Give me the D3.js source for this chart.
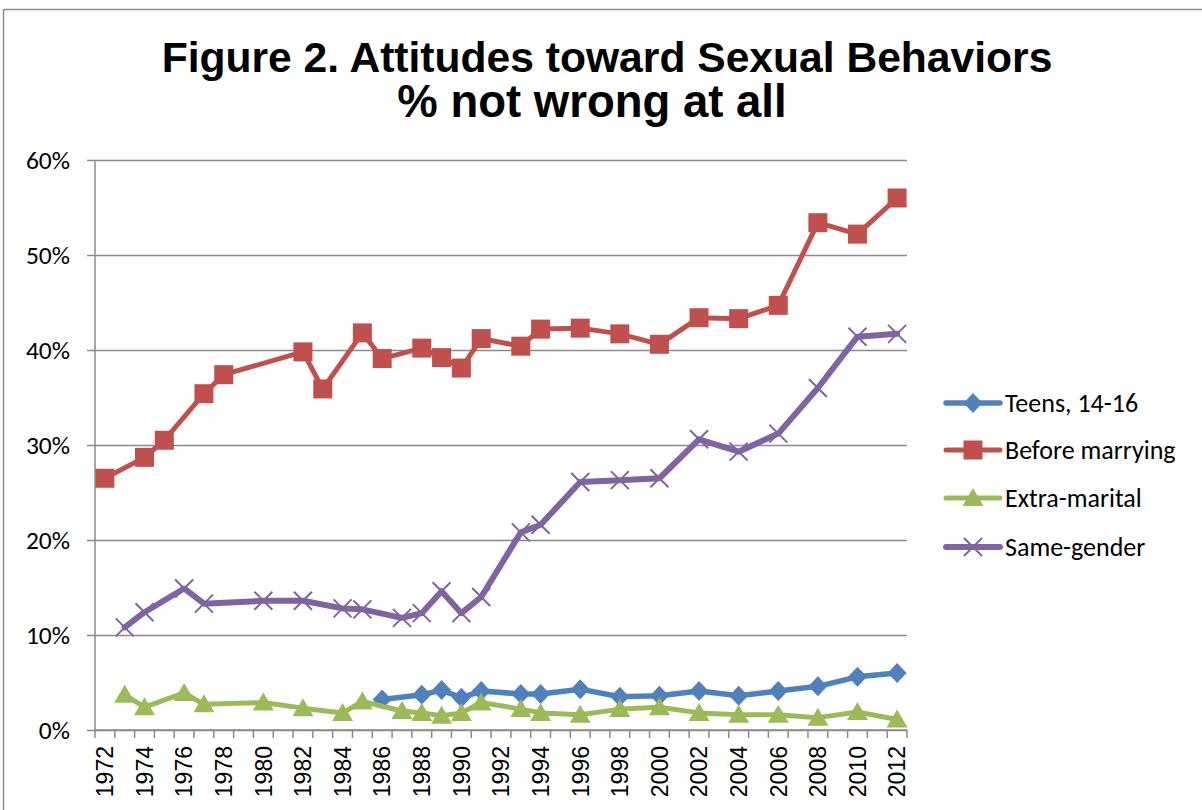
<!DOCTYPE html>
<html>
<head>
<meta charset="utf-8">
<script src="https://cdn.jsdelivr.net/npm/d3@7"></script>
<style>
  html, body { margin: 0; padding: 0; background: #fff; }
  svg { display: block; }
</style>
</head>
<body>
<svg id="chart" width="1202" height="810"></svg>
<script>
const categories = [1972,1973,1974,1975,1976,1977,1978,1979,1980,1981,1982,1983,1984,1985,1986,1987,1988,1989,1990,1991,1992,1993,1994,1995,1996,1997,1998,1999,2000,2001,2002,2003,2004,2005,2006,2007,2008,2009,2010,2011,2012];
const tickLabels = [1972,1974,1976,1978,1980,1982,1984,1986,1988,1990,1992,1994,1996,1998,2000,2002,2004,2006,2008,2010,2012];
const yTicks = [0,10,20,30,40,50,60];

const teensYears = [1986,1988,1989,1990,1991,1993,1994,1996,1998,2000,2002,2004,2006,2008,2010,2012];
const teensValues = [3.2,3.7,4.2,3.4,4.1,3.8,3.8,4.3,3.5,3.6,4.1,3.6,4.1,4.6,5.6,6.0];

const beforeYears = [1972,1974,1975,1977,1978,1982,1983,1985,1986,1988,1989,1990,1991,1993,1994,1996,1998,2000,2002,2004,2006,2008,2010,2012];
const beforeValues = [26.5,28.7,30.5,35.4,37.4,39.8,35.9,41.8,39.1,40.2,39.2,38.1,41.2,40.4,42.2,42.3,41.7,40.6,43.4,43.3,44.7,53.4,52.2,56.0];

const extraYears = [1973,1974,1976,1977,1980,1982,1984,1985,1987,1988,1989,1990,1991,1993,1994,1996,1998,2000,2002,2004,2006,2008,2010,2012];
const extraValues = [3.7,2.4,3.9,2.7,2.9,2.3,1.8,3.0,2.0,1.8,1.5,1.8,2.9,2.2,1.8,1.6,2.2,2.4,1.8,1.6,1.6,1.3,1.9,1.1];

const sameYears = [1973,1974,1976,1977,1980,1982,1984,1985,1987,1988,1989,1990,1991,1993,1994,1996,1998,2000,2002,2004,2006,2008,2010,2012];
const sameValues = [10.8,12.4,14.9,13.3,13.6,13.6,12.8,12.7,11.8,12.3,14.6,12.3,14.0,20.8,21.6,26.1,26.3,26.5,30.6,29.3,31.2,36.0,41.4,41.7];

const seriesNames = ["Teens, 14-16","Before marrying","Extra-marital","Same-gender"];

const series = [
  {name: seriesNames[0], years: teensYears, values: teensValues, color: "#4F81BD", marker: "diamond", width: 5.5},
  {name: seriesNames[1], years: beforeYears, values: beforeValues, color: "#C0504D", marker: "square", width: 5},
  {name: seriesNames[2], years: extraYears, values: extraValues, color: "#9BBB59", marker: "triangle", width: 5},
  {name: seriesNames[3], years: sameYears, values: sameValues, color: "#8064A2", marker: "cross", width: 6}
];

const svg = d3.select("#chart");
const L = 95, R = 907, T = 160, B = 730;
const gridColor = "#8a8a8a";
const labelFont = "Carlito, Calibri, Lato, 'Open Sans', sans-serif";

// outer frame
svg.append("path")
  .attr("d", "M3.5,815 L3.5,9.5 L1210,9.5")
  .attr("fill", "none").attr("stroke", "#8c8c8c").attr("stroke-width", 1.5);

// title
const title = svg.append("text")
  .attr("text-anchor", "middle")
  .attr("font-family", "'Liberation Sans', Arial, sans-serif")
  .attr("font-weight", "bold").attr("fill", "#000");
title.append("tspan").attr("x", 607).attr("y", 72).attr("font-size", 42.6).text("Figure 2. Attitudes toward Sexual Behaviors");
title.append("tspan").attr("x", 592).attr("y", 117).attr("font-size", 45.5).text("% not wrong at all");

const x = d3.scaleBand().domain(categories).range([L, R]).paddingInner(0).paddingOuter(0);
const y = d3.scaleLinear().domain([0, 60]).range([B, T]);
const cx = yr => x(yr) + x.bandwidth() / 2;

// y axis with gridlines
const yAxis = d3.axisLeft(y).tickValues(yTicks).tickFormat(d => d + "%")
  .tickSize(-(R - L + 8)).tickPadding(17);
const gy = svg.append("g").attr("transform", `translate(${L - 8},0)`).call(yAxis);
gy.select(".domain").remove();
gy.selectAll(".tick line").attr("stroke", gridColor).attr("stroke-width", 1.5);
gy.selectAll(".tick text").attr("font-family", labelFont).attr("font-size", 25.5).attr("fill", "#000");

// y axis line
svg.append("line").attr("x1", L).attr("x2", L).attr("y1", T).attr("y2", B)
  .attr("stroke", gridColor).attr("stroke-width", 1.5);

// x axis labels
const xAxis = d3.axisBottom(x).tickValues(tickLabels).tickSize(0).tickPadding(0);
const gx = svg.append("g").attr("transform", `translate(0,${B})`).call(xAxis);
gx.select(".domain").remove();
gx.selectAll(".tick text")
  .attr("font-family", "'Liberation Sans', Arial, sans-serif")
  .attr("font-size", 23).attr("fill", "#000")
  .attr("transform", "rotate(-90)")
  .attr("text-anchor", "end")
  .attr("x", -16).attr("y", 0).attr("dy", "0.36em");

// x axis line + boundary ticks
svg.append("line").attr("x1", L).attr("x2", R).attr("y1", B).attr("y2", B)
  .attr("stroke", gridColor).attr("stroke-width", 1.5);
svg.append("g").selectAll("line").data(categories.concat(["end"])).join("line")
  .attr("x1", d => d === "end" ? R : x(d)).attr("x2", d => d === "end" ? R : x(d))
  .attr("y1", B).attr("y2", B + 8)
  .attr("stroke", gridColor).attr("stroke-width", 1.5);

function drawMarker(g, type, color, px, py) {
  if (type === "diamond") {
    g.append("path").attr("d", `M${px},${py-10} L${px+9.5},${py} L${px},${py+10} L${px-9.5},${py} Z`).attr("fill", color);
  } else if (type === "square") {
    g.append("rect").attr("x", px - 9.5).attr("y", py - 9.5).attr("width", 19).attr("height", 19).attr("fill", color);
  } else if (type === "triangle") {
    g.append("path").attr("d", `M${px},${py-10} L${px+10.5},${py+8} L${px-10.5},${py+8} Z`).attr("fill", color);
  } else if (type === "cross") {
    g.append("path").attr("d", `M${px-9},${py-9} L${px+9},${py+9} M${px-9},${py+9} L${px+9},${py-9}`)
      .attr("stroke", color).attr("stroke-width", 2).attr("fill", "none");
  }
}

const line = d3.line().x(d => cx(d[0])).y(d => y(d[1]));

series.forEach(s => {
  const pts = s.years.map((yr, i) => [yr, s.values[i]]);
  const g = svg.append("g");
  g.append("path").datum(pts).attr("d", line)
    .attr("fill", "none").attr("stroke", s.color).attr("stroke-width", s.width)
    .attr("stroke-linejoin", "round").attr("stroke-linecap", "round");
  pts.forEach(p => drawMarker(g, s.marker, s.color, cx(p[0]), y(p[1])));
});

// legend
const legendY = [403, 450, 498, 547];
series.forEach((s, i) => {
  const g = svg.append("g");
  const ly = legendY[i];
  g.append("line").attr("x1", 946).attr("x2", 1000).attr("y1", ly).attr("y2", ly)
    .attr("stroke", s.color).attr("stroke-width", s.width).attr("stroke-linecap", "round");
  drawMarker(g, s.marker, s.color, 973, ly);
  g.append("text").attr("x", 1005).attr("y", ly).attr("dy", "0.35em")
    .attr("font-family", labelFont).attr("font-size", 26).attr("fill", "#000")
    .text(s.name);
});
</script>
</body>
</html>
